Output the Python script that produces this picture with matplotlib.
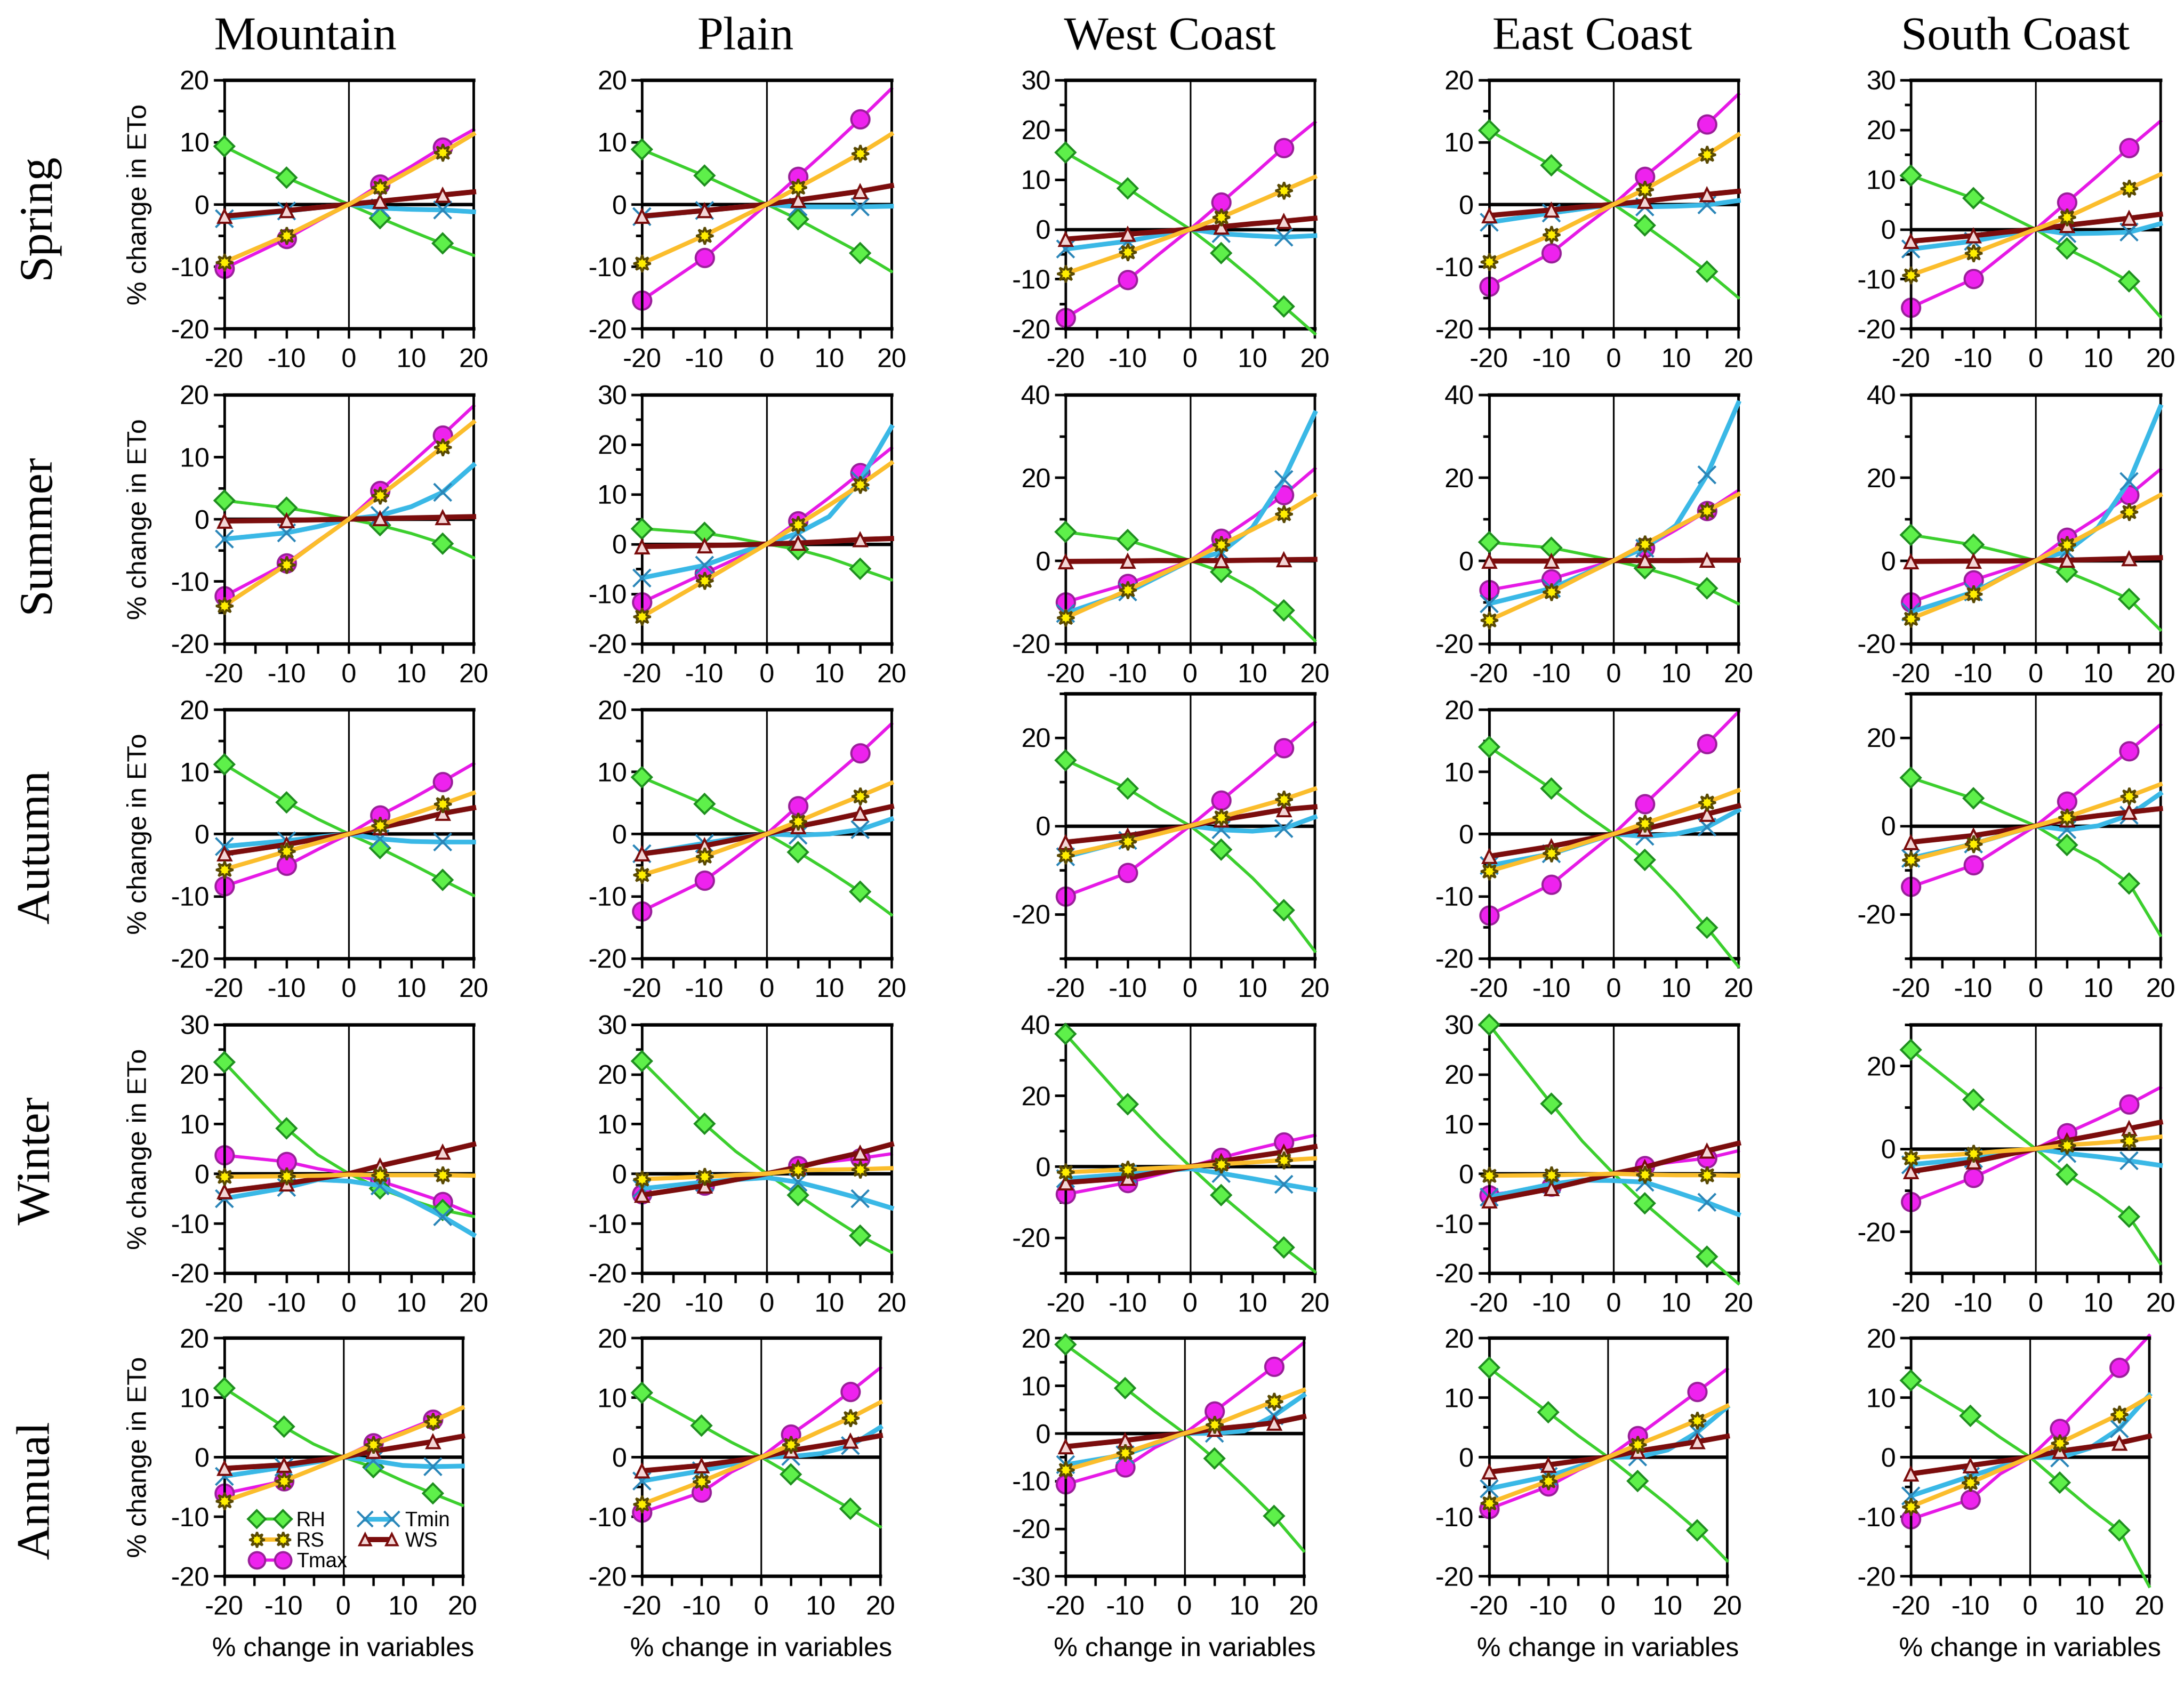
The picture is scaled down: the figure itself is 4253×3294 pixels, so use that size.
import matplotlib
matplotlib.use('Agg')
import matplotlib.pyplot as plt
from matplotlib import font_manager
from matplotlib.lines import Line2D
from matplotlib.ticker import MultipleLocator

regions = ['Mountain', 'Plain', 'West Coast', 'East Coast', 'South Coast']
seasons = ['Spring', 'Summer', 'Autumn', 'Winter', 'Annual']
x_change = [-20, -10, -5, 0, 5, 10, 15, 20]

# each list: Mountain, Plain, West Coast, East Coast, South Coast
rh_spring = [[9.3, 4.3, 2.1, 0, -2.2, -4.3, -6.3, -8.2],
             [8.8, 4.6, 2.3, 0, -2.4, -5.1, -7.8, -10.8],
             [15.4, 8.2, 4.0, 0, -4.8, -10.0, -15.5, -21.0],
             [11.9, 6.3, 3.1, 0, -3.4, -7.0, -10.8, -15.0],
             [10.8, 6.2, 3.1, 0, -3.9, -7.0, -10.5, -17.6]]
rs_spring = [[-9.3, -5.0, -2.5, 0, 2.7, 5.5, 8.3, 11.3],
             [-9.5, -5.0, -2.5, 0, 2.7, 5.4, 8.2, 11.3],
             [-8.9, -4.6, -2.3, 0, 2.4, 5.1, 7.8, 10.5],
             [-9.2, -4.9, -2.4, 0, 2.4, 5.2, 8.0, 11.2],
             [-9.2, -4.8, -2.4, 0, 2.4, 5.3, 8.2, 11.0]]
tmax_spring = [[-10.3, -5.5, -2.7, 0, 3.2, 6.1, 9.2, 12.0],
               [-15.4, -8.6, -4.3, 0, 4.5, 9.0, 13.7, 18.6],
               [-17.8, -10.2, -5.0, 0, 5.4, 10.8, 16.4, 21.5],
               [-13.2, -7.8, -3.8, 0, 4.5, 8.6, 12.9, 17.7],
               [-15.7, -10.0, -5.0, 0, 5.4, 10.8, 16.4, 21.7]]
tmin_spring = [[-2.3, -1.1, -0.5, 0, -0.6, -0.8, -0.9, -1.2],
               [-2.0, -1.0, -0.5, 0, -0.4, -0.4, -0.4, -0.3],
               [-4.0, -2.4, -1.2, 0, -0.9, -1.3, -1.6, -1.3],
               [-2.9, -1.4, -0.7, 0, -0.4, -0.3, -0.1, 0.6],
               [-4.0, -2.4, -1.2, 0, -0.9, -0.8, -0.6, 1.1]]
ws_spring = [[-1.9, -1.0, -0.5, 0, 0.5, 1.0, 1.5, 2.0],
             [-1.9, -1.0, -0.5, 0, 0.7, 1.4, 2.1, 3.0],
             [-2.0, -1.0, -0.5, 0, 0.5, 1.1, 1.6, 2.2],
             [-1.8, -0.9, -0.4, 0, 0.5, 1.1, 1.6, 2.1],
             [-2.4, -1.3, -0.6, 0, 0.8, 1.5, 2.2, 3.0]]

rh_summer = [[3.0, 1.8, 1.0, 0, -1.0, -2.3, -3.9, -6.2],
             [3.1, 2.2, 1.2, 0, -1.1, -2.8, -5.0, -7.2],
             [6.9, 4.9, 2.6, 0, -2.7, -6.8, -12.0, -19.3],
             [4.4, 3.1, 1.6, 0, -1.8, -4.0, -6.7, -10.4],
             [6.2, 3.8, 2.0, 0, -2.7, -5.8, -9.3, -16.7]]
rs_summer = [[-13.9, -7.3, -3.6, 0, 3.8, 7.6, 11.6, 15.6],
             [-14.6, -7.4, -3.7, 0, 3.9, 7.8, 11.9, 16.3],
             [-13.8, -7.1, -3.5, 0, 3.8, 7.5, 11.3, 15.8],
             [-14.4, -7.6, -3.7, 0, 4.0, 8.0, 12.0, 16.0],
             [-14.0, -8.0, -3.9, 0, 3.8, 7.8, 11.8, 15.8]]
tmax_summer = [[-12.4, -7.1, -3.5, 0, 4.6, 9.0, 13.5, 18.2],
               [-11.7, -5.9, -3.0, 0, 4.6, 9.3, 14.3, 19.3],
               [-10.0, -5.6, -2.8, 0, 5.3, 10.4, 15.8, 22.2],
               [-7.1, -4.4, -2.2, 0, 3.1, 7.4, 12.0, 16.9],
               [-10.0, -4.7, -2.3, 0, 5.6, 10.4, 15.8, 22.0]]
tmin_summer = [[-3.2, -2.2, -1.2, 0, 0.6, 2.0, 4.3, 8.7],
               [-6.8, -4.3, -2.0, 0, 2.2, 5.5, 12.8, 23.5],
               [-12.7, -7.6, -3.8, 0, 2.0, 8.0, 19.6, 35.6],
               [-10.4, -6.7, -3.4, 0, 3.0, 8.5, 20.7, 38.0],
               [-12.4, -7.6, -3.8, 0, 2.2, 8.0, 19.1, 37.1]]
ws_summer = [[-0.3, -0.2, -0.1, 0, 0.1, 0.2, 0.3, 0.4],
             [-0.5, -0.3, -0.2, 0, 0.2, 0.5, 0.9, 1.1],
             [-0.2, -0.1, 0.0, 0, 0.0, 0.1, 0.2, 0.3],
             [-0.1, -0.1, 0.0, 0, 0.0, 0.0, 0.1, 0.1],
             [-0.2, -0.1, -0.1, 0, 0.1, 0.3, 0.5, 0.7]]

rh_autumn = [[11.2, 5.1, 2.4, 0, -2.3, -4.8, -7.4, -9.9],
             [9.1, 4.8, 2.3, 0, -2.9, -6.0, -9.3, -13.0],
             [14.9, 8.4, 4.0, 0, -5.4, -11.8, -19.1, -28.4],
             [14.0, 7.3, 3.5, 0, -4.2, -9.4, -15.1, -21.3],
             [10.9, 6.2, 3.0, 0, -4.3, -8.0, -13.0, -24.8]]
rs_autumn = [[-5.7, -2.8, -1.4, 0, 1.4, 3.1, 4.8, 6.6],
             [-6.6, -3.6, -1.8, 0, 2.0, 4.1, 6.1, 8.2],
             [-6.6, -3.5, -1.8, 0, 2.0, 4.0, 6.0, 8.4],
             [-6.0, -3.1, -1.5, 0, 1.7, 3.4, 5.1, 7.0],
             [-7.7, -4.1, -2.0, 0, 2.0, 4.4, 6.7, 9.4]]
tmax_autumn = [[-8.4, -5.1, -2.5, 0, 3.0, 5.6, 8.4, 11.3],
               [-12.4, -7.5, -3.8, 0, 4.5, 8.7, 13.0, 17.7],
               [-15.9, -10.6, -5.3, 0, 5.8, 11.6, 17.6, 23.5],
               [-13.1, -8.1, -4.0, 0, 4.8, 9.6, 14.5, 19.6],
               [-13.8, -8.9, -4.4, 0, 5.6, 11.3, 17.0, 22.9]]
tmin_autumn = [[-2.0, -1.1, -0.5, 0, -0.8, -1.2, -1.3, -1.3],
               [-3.2, -1.5, -0.7, 0, -0.2, 0.0, 0.7, 2.4],
               [-7.0, -3.3, -1.6, 0, -0.9, -1.2, -0.6, 2.0],
               [-5.1, -3.2, -1.6, 0, -0.4, 0.0, 1.1, 3.8],
               [-7.3, -4.1, -2.0, 0, -0.9, 0.0, 2.4, 7.3]]
ws_autumn = [[-3.2, -1.7, -0.8, 0, 1.0, 2.1, 3.3, 4.2],
             [-3.2, -1.9, -0.9, 0, 1.2, 2.2, 3.3, 4.4],
             [-3.7, -2.2, -1.1, 0, 1.4, 2.5, 3.7, 4.3],
             [-3.6, -2.0, -1.0, 0, 0.8, 2.0, 3.2, 4.5],
             [-3.7, -2.2, -1.1, 0, 1.4, 2.3, 3.1, 3.9]]

rh_winter = [[22.4, 9.1, 3.8, 0, -3.0, -5.3, -7.3, -8.6],
             [22.6, 10.0, 4.5, 0, -4.3, -8.5, -12.5, -15.8],
             [37.3, 17.6, 8.5, 0, -8.1, -15.5, -22.8, -29.6],
             [30.0, 14.1, 6.5, 0, -6.0, -11.4, -16.7, -22.1],
             [23.9, 11.9, 5.8, 0, -6.2, -11.0, -16.4, -27.7]]
rs_winter = [[-0.6, -0.5, -0.4, -0.2, -0.3, -0.3, -0.3, -0.4],
             [-1.1, -0.6, -0.3, 0, 0.7, 0.8, 0.9, 1.1],
             [-1.6, -0.8, -0.4, 0, 0.7, 1.2, 1.8, 2.3],
             [-0.4, -0.3, -0.2, 0, -0.2, -0.3, -0.3, -0.4],
             [-2.2, -1.1, -0.5, 0, 0.9, 1.4, 2.0, 2.9]]
tmax_winter = [[3.7, 2.4, 1.0, 0, -1.5, -3.5, -5.6, -8.2],
               [-4.1, -2.3, -1.1, 0, 1.6, 2.4, 3.1, 4.0],
               [-7.8, -4.5, -2.2, 0, 2.5, 4.8, 6.9, 8.8],
               [-4.3, -2.6, -1.3, 0, 1.6, 2.4, 3.1, 4.6],
               [-12.8, -6.9, -3.4, 0, 3.8, 7.2, 10.8, 14.8]]
tmin_winter = [[-5.0, -2.8, -1.2, -1.5, -2.4, -5.3, -8.6, -12.3],
               [-3.0, -1.7, -1.2, -0.8, -1.7, -3.3, -5.0, -6.9],
               [-3.4, -2.1, -1.2, -0.6, -1.9, -3.4, -5.0, -6.5],
               [-4.7, -2.1, -1.3, -1.4, -1.7, -3.7, -5.8, -8.2],
               [-3.8, -2.4, -1.2, 0, -1.1, -1.9, -2.9, -4.0]]
ws_winter = [[-3.6, -2.0, -1.0, 0, 1.6, 3.0, 4.4, 5.9],
             [-4.3, -2.4, -1.2, 0, 1.3, 2.8, 4.2, 5.9],
             [-4.5, -3.2, -1.6, 0, 1.5, 2.8, 4.1, 5.6],
             [-5.4, -3.0, -1.5, 0, 1.3, 3.0, 4.6, 6.1],
             [-5.5, -3.1, -1.5, 0, 2.0, 3.4, 4.9, 6.4]]

rh_annual = [[11.6, 5.1, 2.2, 0, -1.7, -4.0, -6.1, -8.1],
             [10.8, 5.3, 2.5, 0, -2.9, -5.8, -8.7, -11.7],
             [18.6, 9.5, 4.6, 0, -5.3, -11.2, -17.4, -24.7],
             [15.0, 7.5, 3.6, 0, -4.0, -8.0, -12.3, -17.4],
             [12.9, 6.9, 3.3, 0, -4.3, -8.5, -12.3, -21.7]]
rs_annual = [[-7.4, -4.0, -2.0, 0, 2.1, 4.0, 6.0, 8.3],
             [-7.9, -4.1, -2.0, 0, 2.1, 4.4, 6.6, 9.2],
             [-7.7, -4.1, -2.0, 0, 1.8, 4.3, 6.7, 9.1],
             [-7.7, -4.0, -2.0, 0, 2.1, 4.1, 6.2, 8.6],
             [-8.3, -4.3, -2.1, 0, 2.4, 4.8, 7.2, 10.1]]
tmax_annual = [[-6.1, -4.0, -2.0, 0, 2.4, 4.3, 6.3, 8.2],
               [-9.3, -5.9, -2.5, 0, 3.8, 7.3, 11.0, 15.0],
               [-10.7, -7.1, -3.0, 0, 4.6, 9.3, 14.0, 19.0],
               [-8.7, -4.9, -2.2, 0, 3.6, 7.3, 11.0, 14.8],
               [-10.4, -7.1, -2.8, 0, 4.8, 9.9, 15.0, 20.4]]
tmin_annual = [[-3.2, -1.7, -0.9, 0, -0.6, -1.4, -1.6, -1.5],
               [-4.0, -2.3, -1.2, 0, 0.1, 0.6, 1.9, 5.0],
               [-6.6, -4.5, -2.2, 0, 0.0, 0.5, 3.7, 8.0],
               [-5.3, -3.2, -1.6, 0, 0.0, 1.2, 4.2, 8.4],
               [-6.5, -3.2, -1.6, 0, -0.1, 1.5, 4.8, 10.4]]
ws_annual = [[-1.9, -1.3, -0.6, 0, 1.0, 1.8, 2.6, 3.5],
             [-2.3, -1.4, -0.7, 0, 1.1, 1.9, 2.7, 3.6],
             [-2.8, -1.5, -0.7, 0, 0.9, 1.5, 2.2, 3.5],
             [-2.5, -1.3, -0.6, 0, 1.0, 1.8, 2.6, 3.5],
             [-2.8, -1.4, -0.7, 0, 1.0, 1.7, 2.4, 3.5]]

ylim_spring = [(-20, 20), (-20, 20), (-20, 30), (-20, 20), (-20, 30)]
ylim_summer = [(-20, 20), (-20, 30), (-20, 40), (-20, 40), (-20, 40)]
ylim_autumn = [(-20, 20), (-20, 20), (-30, 30), (-20, 20), (-30, 30)]
ylim_winter = [(-20, 30), (-20, 30), (-30, 40), (-20, 30), (-30, 30)]
ylim_annual = [(-20, 20), (-20, 20), (-30, 20), (-20, 20), (-20, 20)]

season_data = {
    'Spring': (rh_spring, rs_spring, tmax_spring, tmin_spring, ws_spring, ylim_spring),
    'Summer': (rh_summer, rs_summer, tmax_summer, tmin_summer, ws_summer, ylim_summer),
    'Autumn': (rh_autumn, rs_autumn, tmax_autumn, tmin_autumn, ws_autumn, ylim_autumn),
    'Winter': (rh_winter, rs_winter, tmax_winter, tmin_winter, ws_winter, ylim_winter),
    'Annual': (rh_annual, rs_annual, tmax_annual, tmin_annual, ws_annual, ylim_annual),
}

# fonts
names = {f.name for f in font_manager.fontManager.ttflist}
if 'Liberation Sans Narrow' in names:
    tick_font, tick_size = 'Liberation Sans Narrow', 14.5
else:
    tick_font, tick_size = 'Liberation Sans', 12.5
plt.rcParams['font.family'] = [tick_font, 'DejaVu Sans']
plt.rcParams['axes.unicode_minus'] = False

# line / marker style per variable
styles = {
    'RH':   dict(color='#3ccf2e', marker='D', ms=6.5, mfc='#5ef04a', mec='#1f8f1f', lw=1.4, z=3),
    'RS':   dict(color='#fbbd2c', marker=(8, 1, 0), ms=8, mfc='#ffee00', mec='#5a4a00', lw=2.0, z=6),
    'Tmax': dict(color='#e619e6', marker='o', ms=8.5, mfc='#ee22ee', mec='#9a209a', lw=1.5, z=2),
    'Tmin': dict(color='#3ab8e6', marker='x', ms=8, mfc='#2b86b8', mec='#2b86b8', lw=2.2, z=4),
    'WS':   dict(color='#7b0d0d', marker='^', ms=6, mfc='#f3d6d6', mec='#7b0d0d', lw=2.4, z=5),
}
mark_idx = [0, 1, 4, 6]

W, H = 1568.0, 1214.0
row_top = [57.4, 283.4, 509.4, 735.5, 960.6]
row_bot = [236.0, 462.0, 688.0, 914.0, 1131.6]
col_left = [161, 461, 765, 1069, 1372]
title_x = [219, 535, 840, 1143, 1447]

fig = plt.figure(figsize=(4253 / 300, 3294 / 300), dpi=300)

for r, season in enumerate(seasons):
    rh, rs, tmax, tmin, ws, ylims = season_data[season]
    for c in range(5):
        top = row_top[r]
        if season == 'Autumn' and c in (2, 4):
            top = 497.8
        width = 171 if season == 'Annual' else 179
        ax = fig.add_axes([col_left[c] / W, 1 - row_bot[r] / H,
                           width / W, (row_bot[r] - top) / H])
        ax.axhline(0, color='black', lw=1.6, zorder=1)
        ax.axvline(0, color='black', lw=0.8, zorder=1)
        for name, vals in [('Tmax', tmax[c]), ('RH', rh[c]), ('Tmin', tmin[c]),
                           ('WS', ws[c]), ('RS', rs[c])]:
            s = styles[name]
            ax.plot(x_change, vals, color=s['color'], lw=s['lw'], marker=s['marker'],
                    ms=s['ms'], mfc=s['mfc'], mec=s['mec'], mew=1.0,
                    markevery=mark_idx, zorder=s['z'], clip_on=False)
        lo, hi = ylims[c]
        ax.set_xlim(-20, 20)
        ax.set_ylim(lo, hi)
        ax.xaxis.set_major_locator(MultipleLocator(10))
        ax.xaxis.set_minor_locator(MultipleLocator(5))
        if hi - lo >= 60:
            ax.yaxis.set_major_locator(MultipleLocator(20))
            ax.yaxis.set_minor_locator(MultipleLocator(10))
        else:
            ax.yaxis.set_major_locator(MultipleLocator(10))
            ax.yaxis.set_minor_locator(MultipleLocator(5))
        ax.tick_params(axis='x', which='both', direction='out', length=4.5, width=1.1,
                       pad=4.5, labelsize=tick_size)
        ax.tick_params(axis='y', which='major', direction='out', length=5, width=1.2,
                       pad=2, labelsize=tick_size)
        ax.tick_params(axis='y', which='minor', direction='out', length=3, width=1.2)
        for side in ['left', 'right']:
            ax.spines[side].set_linewidth(1.2)
        for side in ['top', 'bottom']:
            ax.spines[side].set_linewidth(1.6)

        if c == 0:
            fig.text(100 / W, 1 - (top + row_bot[r]) / 2 / H, '% change in ETo',
                     rotation=90, ha='center', va='center', fontsize=12.5,
                     family=['Liberation Sans', 'DejaVu Sans'])
        if season == 'Annual':
            fig.text((col_left[c] + width / 2) / W, 1 - 1184 / H, '% change in variables',
                     ha='center', va='center', fontsize=12.5,
                     family=['Liberation Sans', 'DejaVu Sans'])

        if season == 'Annual' and c == 0:
            handles = []
            for name in ['RH', 'RS', 'Tmax', 'Tmin', 'WS']:
                s = styles[name]
                handles.append(Line2D([], [], color=s['color'], lw=s['lw'], marker=s['marker'],
                                      ms=s['ms'] * 0.9, mfc=s['mfc'], mec=s['mec'], label=name))
            ax.legend(handles=handles, ncol=2, loc='lower left', bbox_to_anchor=(0.11, 0.02),
                      frameon=False, numpoints=2, handlelength=1.9, handletextpad=0.35,
                      columnspacing=0.6, labelspacing=0.05, borderpad=0, borderaxespad=0,
                      prop={'family': ['Liberation Sans', 'DejaVu Sans'], 'size': 9.5})

for c, region in enumerate(regions):
    fig.text(title_x[c] / W, 1 - 27 / H, region, ha='center', va='center',
             fontsize=22, family=['Liberation Serif', 'DejaVu Serif'])

row_label_y = [155, 383, 608, 833, 1070]
for r, season in enumerate(seasons):
    fig.text(27 / W, 1 - row_label_y[r] / H, season, rotation=90, ha='center', va='center',
             fontsize=22, family=['Liberation Serif', 'DejaVu Serif'])

fig.savefig('out.png', dpi=300, facecolor='white')
print('saved out.png')
